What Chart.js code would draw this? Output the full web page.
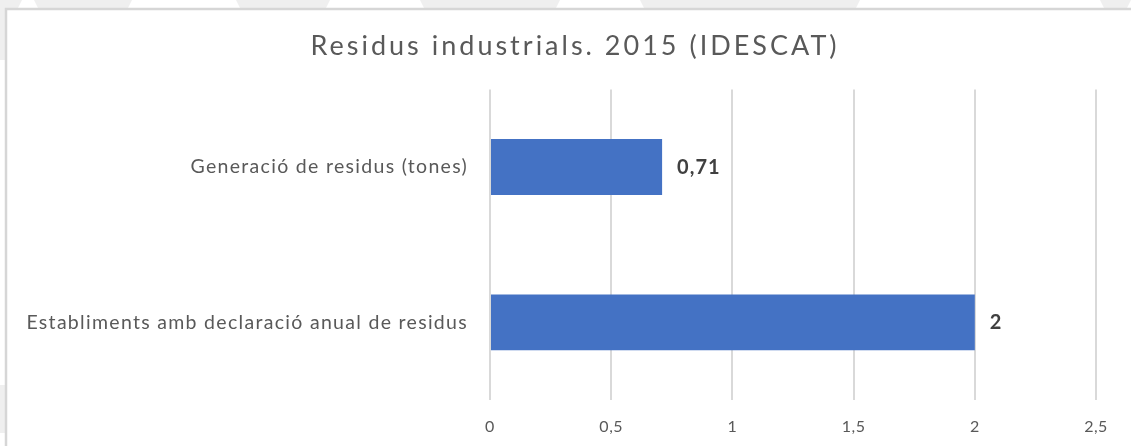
<!DOCTYPE html>
<html>
<head>
<meta charset="utf-8">
<script src="https://cdn.jsdelivr.net/npm/chart.js@4/dist/chart.umd.min.js"></script>
<style>
  html, body { margin: 0; padding: 0; background: #ffffff; }
  #wrap { width: 1131px; height: 446px; }
</style>
</head>
<body>
<div id="wrap"><canvas id="c" width="1131" height="446"></canvas></div>
<script>
// ---- data ----
const chartTitle = 'Residus industrials. 2015 (IDESCAT)';
const categories = ['Generació de residus (tones)', 'Establiments amb declaració anual de residus'];
const values = [0.71, 2];
const valueLabels = ['0,71', '2'];
const xTickLabels = ['0', '0,5', '1', '1,5', '2', '2,5'];

// ---- styling ----
const FONT = 'Lato, "Open Sans", sans-serif';
const TEXT = '#595959';
const GRID = '#d9d9d9';
const BAR = '#4472C4';

const backgroundPlugin = {
  id: 'bg',
  beforeDraw(chart) {
    const ctx = chart.ctx;
    ctx.save();
    ctx.fillStyle = '#ffffff';
    ctx.fillRect(0, 0, chart.width, chart.height);
    // faint watermark shapes outside the frame
    ctx.fillStyle = '#efefef';
    const topBands = [[0, 22], [34, 132], [236, 330], [420, 560], [640, 860], [1100, 1131]];
    topBands.forEach(([a, b]) => {
      ctx.beginPath();
      ctx.moveTo(a, 0); ctx.lineTo(b, 0); ctx.lineTo(b - 4, 8); ctx.lineTo(a + 4, 8); ctx.closePath();
      ctx.fill();
    });
    ctx.fillRect(0, 0, 5, 60);
    ctx.fillRect(0, 385, 5, 48);
    // frame
    ctx.strokeStyle = '#d6d6d6';
    ctx.lineWidth = 2.5;
    ctx.beginPath();
    ctx.moveTo(6, chart.height + 2);
    ctx.lineTo(6, 9);
    ctx.lineTo(chart.width + 2, 9);
    ctx.stroke();
    ctx.restore();

    // per-element letter spacing
    const tb = chart.titleBlock;
    if (tb && !tb._wrapped) {
      const orig = tb.draw;
      tb.draw = function (...args) {
        const c = chart.ctx;
        c.save(); c.translate(27, 0); c.letterSpacing = '3px'; orig.apply(this, args); c.restore();
      };
      tb._wrapped = true;
    }
    const ys = chart.scales.y;
    if (ys && !ys._wrapped) {
      const origL = ys.drawLabels;
      ys.drawLabels = function (...args) {
        const c = chart.ctx;
        c.save(); c.letterSpacing = '1.3px'; origL.apply(this, args); c.restore();
      };
      ys._wrapped = true;
    }
    const xs = chart.scales.x;
    if (xs && !xs._wrapped) {
      const origX = xs.drawLabels;
      xs.drawLabels = function (...args) {
        const c = chart.ctx;
        c.save(); c.letterSpacing = '0.5px'; origX.apply(this, args); c.restore();
      };
      xs._wrapped = true;
    }
  }
};

const valueLabelPlugin = {
  id: 'valueLabels',
  afterDatasetsDraw(chart) {
    const ctx = chart.ctx;
    const meta = chart.getDatasetMeta(0);
    ctx.save();
    ctx.letterSpacing = '1px';
    ctx.font = 'bold 20px ' + FONT;
    ctx.fillStyle = '#404040';
    ctx.textAlign = 'left';
    ctx.textBaseline = 'middle';
    meta.data.forEach((bar, i) => {
      ctx.fillText(valueLabels[i], bar.x + 15, bar.y);
    });
    ctx.restore();
  }
};

new Chart(document.getElementById('c'), {
  type: 'bar',
  data: {
    labels: categories,
    datasets: [{
      data: values,
      backgroundColor: BAR,
      borderWidth: 0,
      categoryPercentage: 1,
      barPercentage: 0.36
    }]
  },
  options: {
    indexAxis: 'y',
    responsive: false,
    animation: false,
    layout: { padding: { left: 0, right: 35, top: 0, bottom: 0 } },
    plugins: {
      legend: { display: false },
      tooltip: { enabled: false },
      title: {
        display: true,
        text: chartTitle,
        color: TEXT,
        font: { family: FONT, size: 27, weight: 'normal' },
        padding: { top: 30, bottom: 27 }
      }
    },
    scales: {
      x: {
        min: 0,
        max: 2.5,
        ticks: {
          stepSize: 0.5,
          color: TEXT,
          font: { family: FONT, size: 16 },
          padding: 17,
          callback: (v, i) => xTickLabels[i]
        },
        grid: { color: GRID, lineWidth: 2, drawTicks: false },
        border: { display: false },
        afterFit: (s) => { s.height = 46; }
      },
      y: {
        ticks: {
          color: TEXT,
          font: { family: FONT, size: 19.5 },
          padding: 22,
          crossAlign: 'near'
        },
        grid: { display: false, drawTicks: false },
        border: { display: false },
        afterFit: (s) => { s.width = 490; }
      }
    }
  },
  plugins: [backgroundPlugin, valueLabelPlugin]
});
</script>
</body>
</html>
